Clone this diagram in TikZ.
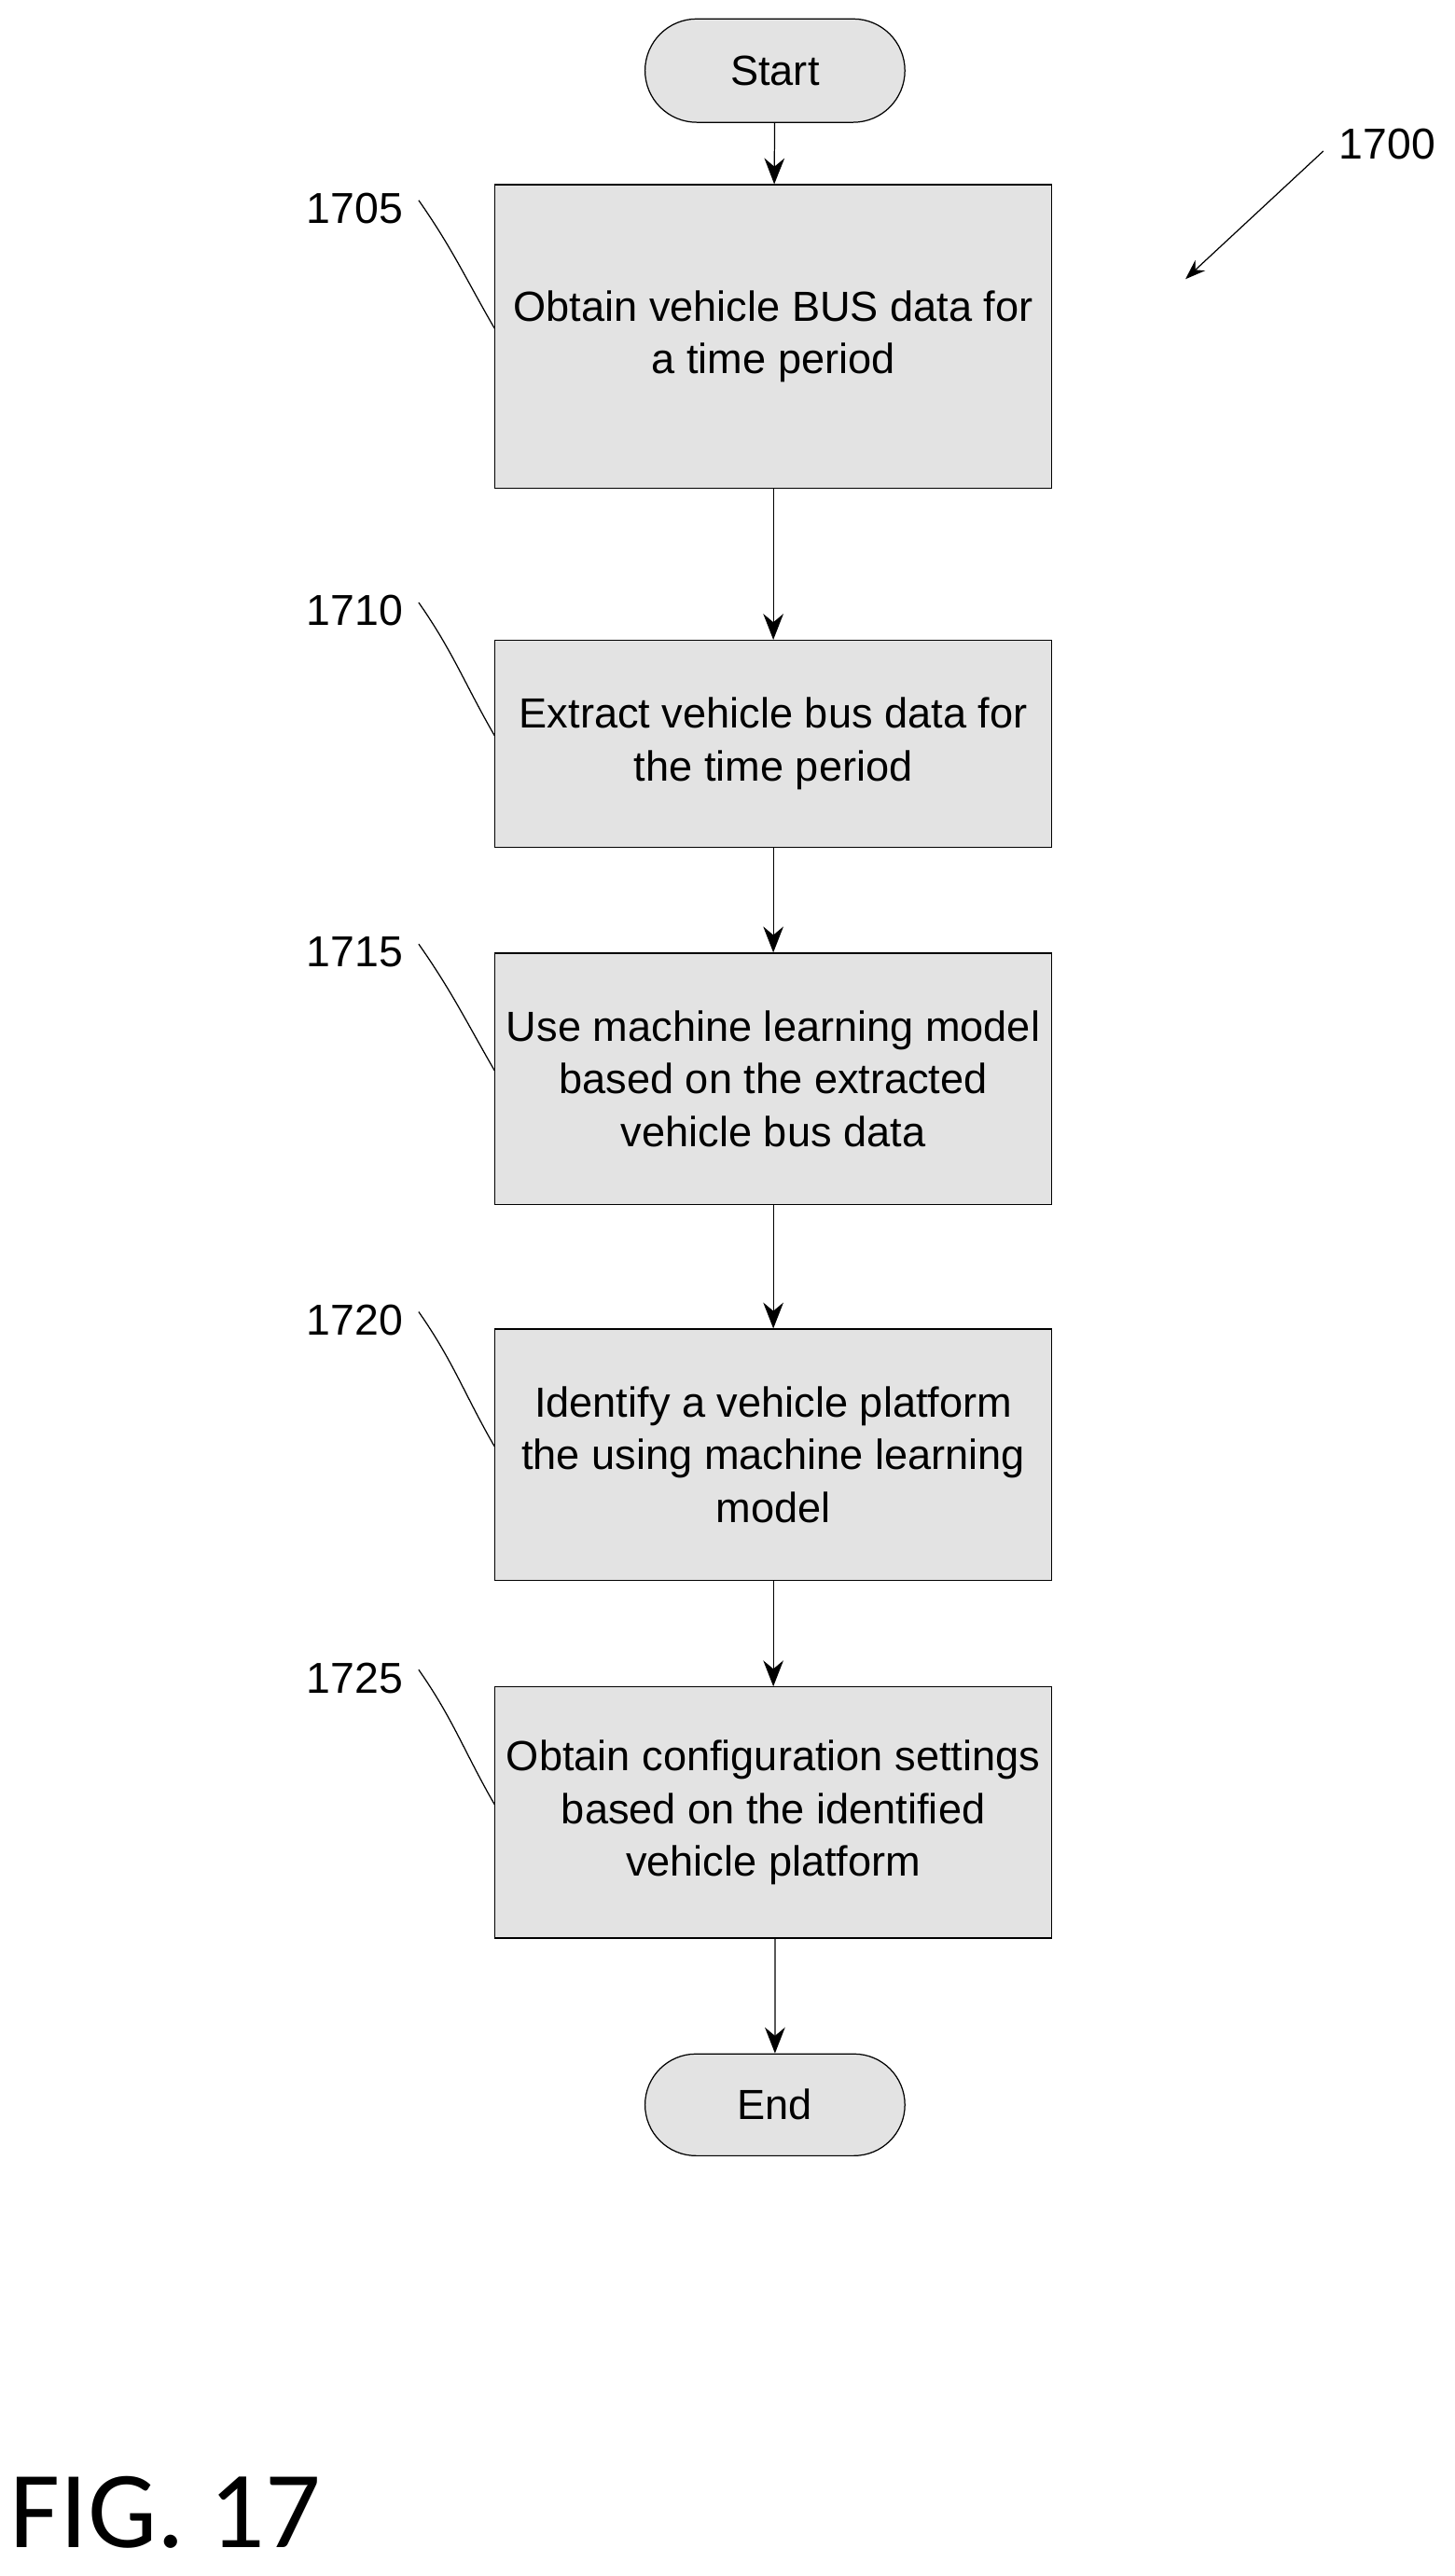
\documentclass[tikz,border=0pt]{standalone}
\usepackage{fontspec}
\setmainfont{Liberation Sans}
\newfontfamily\figfont{Carlito}
\usetikzlibrary{positioning,arrows.meta,shapes.misc}
\tikzset{
  stepbox/.style = {draw, fill=gray!22, minimum width=6.78cm, align=center, inner sep=0},
  term/.style = {draw, fill=gray!22, rounded rectangle, minimum width=3.4cm, minimum height=1.26cm},
  flow/.style = {-{Stealth[length=9pt,width=7pt]}, thin},
  ref/.style = {font=\fontsize{15}{18}\selectfont},
  lead/.style = {thin}
}
\begin{document}
\begin{tikzpicture}[x=0.02cm, y=-0.02cm, font=\fontsize{14.6}{18.2}\selectfont]
  \useasboundingbox (0,0) rectangle (886,1569);
  % flow steps
  \node (start) [term] at (472,43) {Start};
  \node (s1705) [stepbox, minimum height=3.7cm] at (471,205) {Obtain vehicle BUS data for\\a time period};
  \node (s1710) [stepbox, minimum height=2.52cm] at (471,453) {Extract vehicle bus data for\\the time period};
  \node (s1715) [stepbox, minimum height=3.06cm] at (471,657) {Use machine learning model\\based on the extracted\\vehicle bus data};
  \node (s1720) [stepbox, minimum height=3.06cm] at (471,886) {Identify a vehicle platform\\the using machine learning\\model};
  \node (s1725) [stepbox, minimum height=3.06cm] at (471,1104) {Obtain configuration settings\\based on the identified\\vehicle platform};
  \node (end) [term, minimum height=1.24cm] at (472,1282) {End};
  \draw [flow] (start) -- (s1705);
  \draw [flow] (s1705) -- (s1710);
  \draw [flow] (s1710) -- (s1715);
  \draw [flow] (s1715) -- (s1720);
  \draw [flow] (s1720) -- (s1725);
  \draw [flow] (s1725.south -| end) -- (end);
  % reference numerals
  \foreach \n/\y in {1705/127, 1710/372, 1715/580, 1720/804, 1725/1022}{
    \node (r\n) [ref] at (216,\y) {\n};
    \coordinate (c\n) at (255,\y-5);
    \draw [lead] (c\n) to[out=-55, in=120] ([yshift=0.1cm]s\n.west);
  }
  \node (r1700) [ref] at (845,88) {1700};
  \coordinate (a1700) at (806,92);
  \coordinate (b1700) at (722,170);
  \draw [-{Stealth[length=7pt,width=5pt]}, thin] (a1700) -- (b1700);
  \node (fig) [font=\figfont\fontsize{38}{42}\selectfont, anchor=west] at (0,1530) {FIG. 17};
\end{tikzpicture}
\end{document}
